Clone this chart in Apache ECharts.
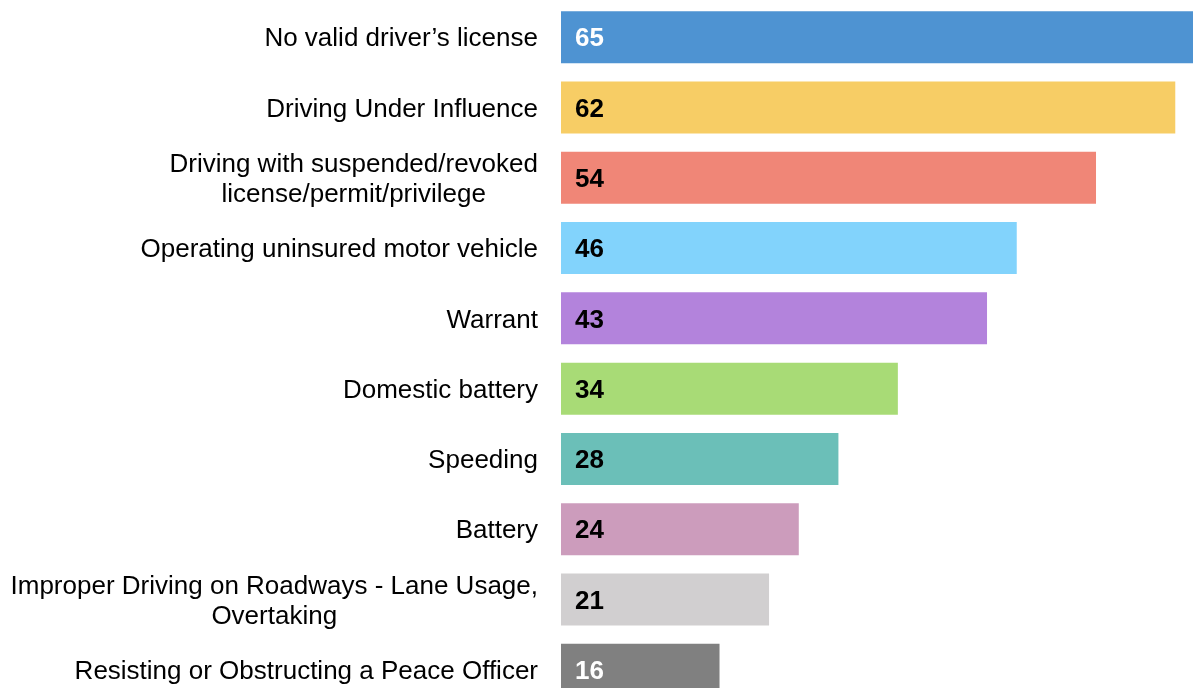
<!DOCTYPE html>
<html>
<head>
<meta charset="utf-8">
<script src="https://cdn.jsdelivr.net/npm/echarts@6/dist/echarts.min.js"></script>
<style>
  html, body { margin: 0; padding: 0; background: #fff; }
  #chart { width: 1193px; height: 688px; }
</style>
</head>
<body>
<div id="chart"></div>
<script>
// categories, top to bottom
const categories = [
  'No valid driver\u2019s license',
  'Driving Under Influence',
  'Driving with suspended/revoked\nlicense/permit/privilege',
  'Operating uninsured motor vehicle',
  'Warrant',
  'Domestic battery',
  'Speeding',
  'Battery',
  'Improper Driving on Roadways - Lane Usage,\nOvertaking',
  'Resisting or Obstructing a Peace Officer'
]
const counts = [65, 62, 54, 46, 43, 34, 28, 24, 21, 16]
const barColors = ['#4e93d2', '#f7cd65', '#f08677', '#82d3fc', '#b383dc', '#a8db76', '#6bbfb8', '#cc9cbc', '#d1cfd0', '#808080']
const labelColors = ['#fff', '#000', '#000', '#000', '#000', '#000', '#000', '#000', '#000', '#fff']

const FONT = 'Liberation Sans, Arial, sans-serif'

const chart = echarts.init(document.getElementById('chart'))
chart.setOption({
  animation: false,
  // plot runs past the right and bottom edges, like the source image
  grid: { left: 561, top: 2, width: 644, height: 703, containLabel: false, outerBoundsMode: 'none' },
  xAxis: {
    type: 'value',
    min: 0,
    max: 65,
    show: false
  },
  yAxis: {
    type: 'category',
    inverse: true,
    data: categories,
    axisLine: { show: false },
    axisTick: { show: false },
    axisLabel: {
      margin: 23,
      color: '#000',
      fontFamily: FONT,
      fontSize: 26,
      padding: [4, 0, 0, 0],
      // centre each line of a wrapped label inside its block
      formatter: v => v.split('\n').map(s => '{c|' + s + '}').join('\n'),
      rich: {
        c: { align: 'center', fontSize: 26, lineHeight: 30, color: '#000', fontFamily: FONT }
      }
    }
  },
  series: [{
    type: 'bar',
    barWidth: 52,
    clip: false,
    data: counts.map((v, i) => ({
      value: v,
      itemStyle: { color: barColors[i] },
      label: { color: labelColors[i] }
    })),
    label: {
      show: true,
      position: 'insideLeft',
      distance: 14,
      offset: [0, 2],
      fontFamily: FONT,
      fontSize: 26,
      fontWeight: 'bold'
    }
  }]
})
</script>
</body>
</html>
